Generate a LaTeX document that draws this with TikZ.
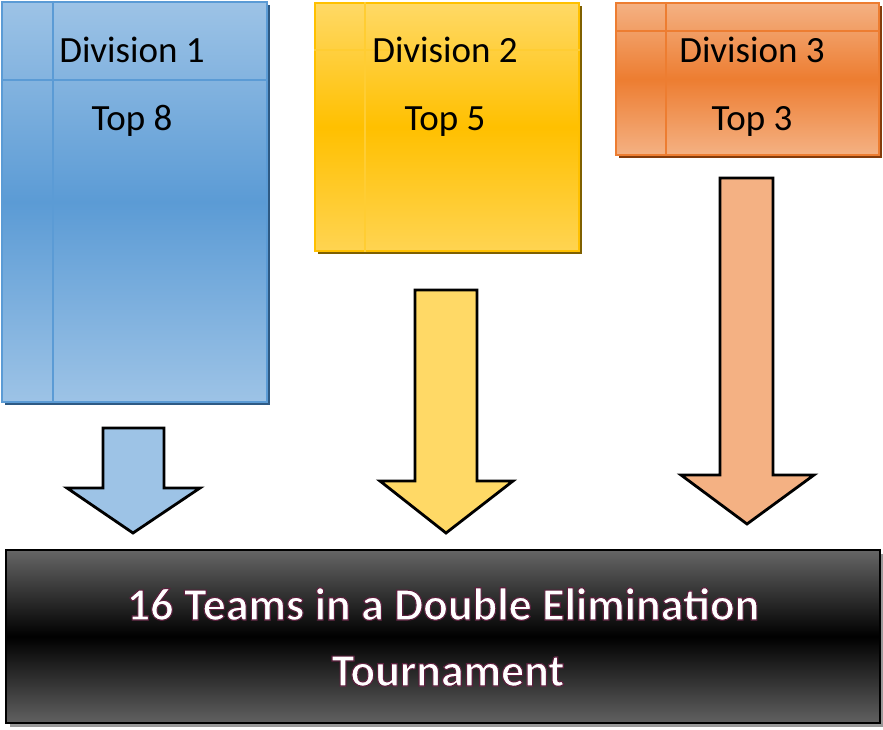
\documentclass[tikz,border=0pt]{standalone}
\usepackage{fontspec}
\setmainfont{Carlito}
\newfontfamily\outlinefont[FakeBold=2.4, UprightFont=*-Bold]{Carlito}
\usetikzlibrary{shadows}

\definecolor{blueLight}{HTML}{9DC3E6}
\definecolor{blueMid}{HTML}{5B9BD5}
\definecolor{blueDark}{HTML}{2E5A84}
\definecolor{yellowLight}{HTML}{FFD966}
\definecolor{yellowMid}{HTML}{FFC000}
\definecolor{yellowDark}{HTML}{7F6000}
\definecolor{orangeLight}{HTML}{F4B183}
\definecolor{orangeMid}{HTML}{ED7D31}
\definecolor{orangeDark}{HTML}{843C0C}
% stroke colour of the white title letters
\newcommand{\glowstroke}{\special{pdf:code 0.36 0.12 0.24 RG}}

\tikzset{
  divbox/.style={draw, line width=2pt, inner sep=0pt, anchor=north west},
  gridline/.style={line width=1.5pt},
  blockarrow/.style={draw=black, line width=2.8pt, line join=miter},
  divtext/.style={font=\fontsize{37}{40}\selectfont, anchor=base},
  finaltext/.style={font=\outlinefont\fontsize{46}{50}\selectfont, anchor=base, text=white},
}

\begin{document}
\begin{tikzpicture}[x=1pt, y=1pt]
    \useasboundingbox (0,0) rectangle (883,729);
    % division boxes
    \node[divbox, draw=blueMid, top color=blueLight, bottom color=blueLight, middle color=blueMid,
          minimum width=265pt, minimum height=400pt,
          drop shadow={shadow xshift=3pt, shadow yshift=-3pt, fill=blueDark, opacity=1}] (div1) at (1,728) {};
    \node[divbox, draw=yellowMid, top color=yellowLight, bottom color=yellowLight!80!yellowMid, middle color=yellowMid,
          minimum width=264pt, minimum height=248pt,
          drop shadow={shadow xshift=3pt, shadow yshift=-3pt, fill=yellowDark, opacity=1}] (div2) at (314,727) {};
    \node[divbox, draw=orangeMid, top color=orangeLight, bottom color=orangeLight, middle color=orangeMid,
          minimum width=263pt, minimum height=152pt,
          drop shadow={shadow xshift=3pt, shadow yshift=-3pt, fill=orangeDark, opacity=1}] (div3) at (615,727) {};
    \draw[gridline, blueMid] ([xshift=52pt]div1.north west) -- ([xshift=52pt]div1.south west);
    \draw[gridline, blueMid] ([yshift=-79pt]div1.north west) -- ([yshift=-79pt]div1.north east);
    \draw[gridline, yellowMid!80!white] ([xshift=51pt]div2.north west) -- ([xshift=51pt]div2.south west);
    \draw[gridline, yellowMid!80!white] ([yshift=-48pt]div2.north west) -- ([yshift=-48pt]div2.north east);
    \draw[gridline, orangeMid] ([xshift=51pt]div3.north west) -- ([xshift=51pt]div3.south west);
    \draw[gridline, orangeMid] ([yshift=-29pt]div3.north west) -- ([yshift=-29pt]div3.north east);
    \node[divtext] (d1name) at (132,666) {Division 1};
    \node[divtext] (d1top) at (132,598) {Top 8};
    \node[divtext] (d2name) at (445,666) {Division 2};
    \node[divtext] (d2top) at (445,598) {Top 5};
    \node[divtext] (d3name) at (752,666) {Division 3};
    \node[divtext] (d3top) at (752,598) {Top 3};
    % block arrows
    \filldraw[blockarrow, fill=blueLight] (103,301) -- (164,301) -- (164,241) -- (200,241)
        -- (133,196) -- (67,241) -- (103,241) -- cycle;
    \filldraw[blockarrow, fill=yellowLight] (415,439) -- (477,439) -- (477,248) -- (513,248)
        -- (446,196) -- (380,248) -- (415,248) -- cycle;
    \filldraw[blockarrow, fill=orangeLight] (720,551) -- (773,551) -- (773,254) -- (814,254)
        -- (747,205) -- (681,254) -- (720,254) -- cycle;
    % tournament box
    \node[divbox, draw=black, top color=black!60, bottom color=black!62, middle color=black,
          minimum width=874pt, minimum height=173pt,
          drop shadow={shadow xshift=4pt, shadow yshift=-4pt, fill=black!40, opacity=1}] (final) at (5,180) {};
    \node[finaltext] (finalA) at (443,109) {\glowstroke 16 Teams in a Double Elimination};
    \node[finaltext] (finalB) at (448,43) {\glowstroke Tournament};
\end{tikzpicture}
\end{document}
